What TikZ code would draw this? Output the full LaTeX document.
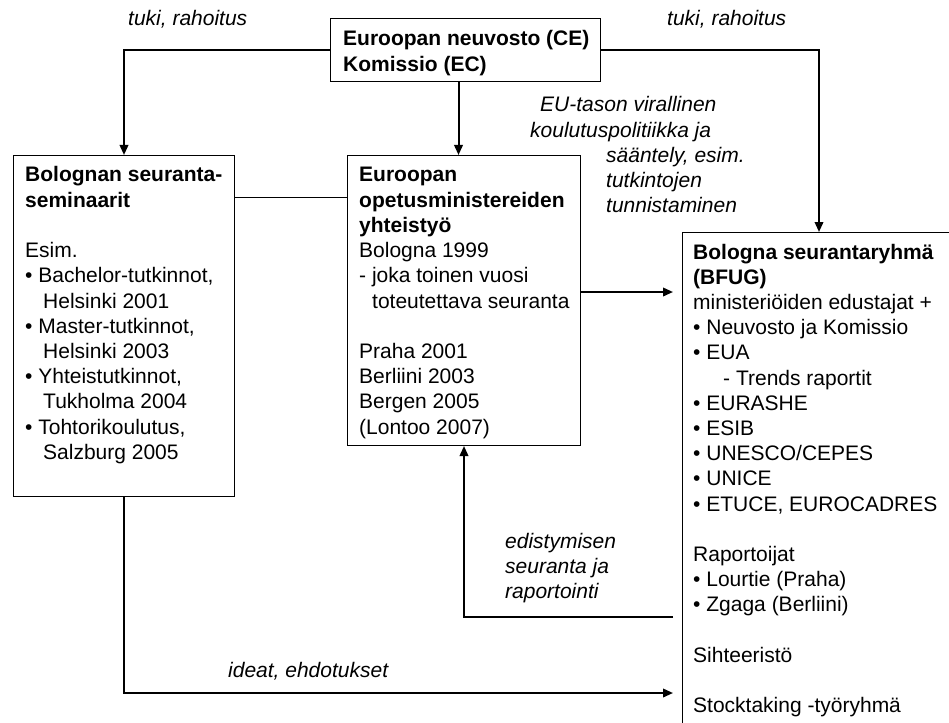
\documentclass[tikz,border=0pt]{standalone}
\usepackage{fontspec}
\setmainfont{Liberation Sans}
\usetikzlibrary{arrows.meta}
\newcommand{\boxtext}[1]{\parbox[t]{320pt}{\raggedright #1}}
\tikzset{
  frame/.style={draw, line width=1pt, anchor=north west, inner sep=0pt},
  txt/.style={anchor=base west, inner sep=0pt, font=\fontsize{21}{25.2}\selectfont},
  lbl/.style={txt, font=\fontsize{21}{25.2}\selectfont\itshape},
  conn/.style={line width=2pt},
  arr/.style={conn, -{Triangle[length=10pt,width=8.5pt]}},
  thinline/.style={line width=1pt}
}
\begin{document}
\begin{tikzpicture}[x=1pt,y=-1pt]
\useasboundingbox (0,0) rectangle (949,722);
% boxes
\node[frame, minimum width=270pt, minimum height=63pt] (ce) at (330,18) {};
\node[frame, minimum width=221pt, minimum height=341pt] (left) at (13,155) {};
\node[frame, minimum width=233pt, minimum height=290pt] (mid) at (347,155) {};
\begin{scope}
  \clip (0,0) rectangle (949,722);
  \node[frame, minimum width=290pt, minimum height=520pt] (bfug) at (682,232) {};
\end{scope}
% box texts
\node[txt] (cetext) at (343,46) {\boxtext{\textbf{Euroopan neuvosto (CE)}\\\textbf{Komissio (EC)}}};
\node[txt] (lefttext) at (25,182) {\boxtext{\textbf{Bolognan seuranta-}\\
\textbf{seminaarit}\\[25.2pt]
Esim.\\
• Bachelor-tutkinnot,\\
\hspace*{18pt}Helsinki 2001\\
• Master-tutkinnot,\\
\hspace*{18pt}Helsinki 2003\\
• Yhteistutkinnot,\\
\hspace*{18pt}Tukholma 2004\\
• Tohtorikoulutus,\\
\hspace*{18pt}Salzburg 2005}};
\node[txt] (midtext) at (359,182) {\boxtext{\textbf{Euroopan}\\
\textbf{opetusministereiden}\\
\textbf{yhteistyö}\\
Bologna 1999\\
- joka toinen vuosi\\
\hspace*{13pt}toteutettava seuranta\\[25.2pt]
Praha 2001\\
Berliini 2003\\
Bergen 2005\\
(Lontoo 2007)}};
\node[txt] (bfugtext) at (693,259) {\boxtext{\textbf{Bologna seurantaryhmä}\\
\textbf{(BFUG)}\\
ministeriöiden edustajat +\\
• Neuvosto ja Komissio\\
• EUA\\
\hspace*{30pt}- Trends raportit\\
• EURASHE\\
• ESIB\\
• UNESCO/CEPES\\
• UNICE\\
• ETUCE, EUROCADRES\\[25.2pt]
Raportoijat\\
• Lourtie (Praha)\\
• Zgaga (Berliini)\\[25.2pt]
Sihteeristö\\[25.2pt]
Stocktaking -työryhmä}};
% labels
\node[lbl] (l1) at (128,26) {tuki, rahoitus};
\node[lbl] (l2) at (667,26) {tuki, rahoitus};
\node[lbl] (l3) at (530,112) {\boxtext{\hspace*{10pt}EU-tason virallinen\\
koulutuspolitiikka ja\\
\hspace*{76pt}sääntely, esim.\\
\hspace*{76pt}tutkintojen\\
\hspace*{76pt}tunnistaminen}};
\node[lbl] (l4) at (505,548) {\boxtext{edistymisen\\seuranta ja\\raportointi}};
\node[lbl] (l5) at (228,677) {ideat, ehdotukset};
% connectors
\draw[arr] (ce.west) -| (left.north);
\draw[arr] (ce.east) -| ([xshift=137pt]bfug.north west);
\draw[arr] ([xshift=-7pt]ce.south) -- ([xshift=-5.5pt]mid.north);
\draw[thinline] ([yshift=-42pt]left.north east) -- ([yshift=-42pt]mid.north west);
\draw[arr] ([yshift=-137pt]mid.north east) -- ([xshift=-9pt,yshift=-60pt]bfug.north west);
\draw[arr] ([xshift=-9pt,yshift=-385pt]bfug.north west) -| (mid.south);
\draw[arr] (left.south) |- ([xshift=-9pt,yshift=-461pt]bfug.north west);
\end{tikzpicture}
\end{document}
